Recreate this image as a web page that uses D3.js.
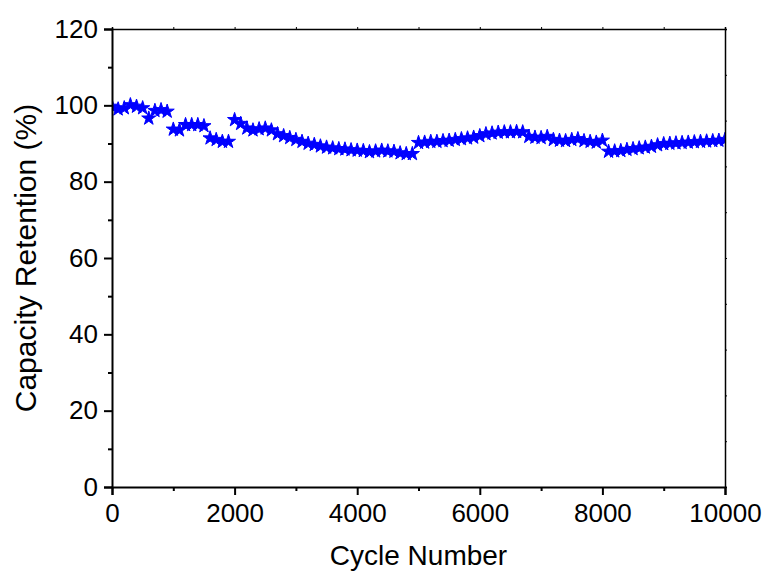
<!DOCTYPE html>
<html>
<head>
<meta charset="utf-8">
<script src="https://cdn.jsdelivr.net/npm/d3@7"></script>
<style>
    body { margin: 0; background: white; }
    svg { display: block; }
</style>
</head>
<body>
<div id="chart"></div>
<script>

const cycles = [
    0, 100, 200, 300, 400, 500, 600, 700, 800, 900,
    1000, 1100, 1200, 1300, 1400, 1500, 1600, 1700, 1800, 1900,
    2000, 2100, 2200, 2300, 2400, 2500, 2600, 2700, 2800, 2900,
    3000, 3100, 3200, 3300, 3400, 3500, 3600, 3700, 3800, 3900,
    4000, 4100, 4200, 4300, 4400, 4500, 4600, 4700, 4800, 4900,
    5000, 5100, 5200, 5300, 5400, 5500, 5600, 5700, 5800, 5900,
    6000, 6100, 6200, 6300, 6400, 6500, 6600, 6700, 6800, 6900,
    7000, 7100, 7200, 7300, 7400, 7500, 7600, 7700, 7800, 7900,
    8000, 8100, 8200, 8300, 8400, 8500, 8600, 8700, 8800, 8900,
    9000, 9100, 9200, 9300, 9400, 9500, 9600, 9700, 9800, 9900,
    10000
]

const retention = [
    99.7, 99.0, 99.3, 100.1, 99.7, 99.3, 96.6, 98.6, 98.8, 98.4,
    93.7, 93.5, 94.9, 94.9, 94.9, 94.6, 91.4, 91.0, 90.5, 90.5,
    96.2, 95.2, 94.0, 93.5, 93.8, 94.0, 93.5, 92.5, 92.0, 91.5,
    91.0, 90.5, 90.0, 89.7, 89.3, 89.0, 88.8, 88.6, 88.5, 88.3,
    88.2, 88.1, 87.8, 88.0, 88.2, 88.0, 87.9, 87.5, 87.3, 87.3,
    90.2, 90.3, 90.5, 90.5, 90.7, 90.8, 91.0, 91.2, 91.4, 91.6,
    92.0, 92.5, 92.7, 92.9, 93.0, 93.0, 93.1, 93.0, 91.8, 91.6,
    91.5, 91.8, 91.0, 90.8, 90.7, 91.0, 91.2, 90.7, 90.5, 90.3,
    90.8, 87.9, 88.0, 88.1, 88.4, 88.6, 88.8, 89.0, 89.2, 89.6,
    89.9, 90.0, 90.1, 90.2, 90.3, 90.4, 90.5, 90.6, 90.7, 90.8,
    91.0
]

const xMajor = [0, 2000, 4000, 6000, 8000, 10000]
const xMinor = [1000, 3000, 5000, 7000, 9000]
const yMajor = [0, 20, 40, 60, 80, 100, 120]
const yMinor = [10, 30, 50, 70, 90, 110]
const topTicks = [0, 1000, 2000, 3000, 4000, 5000, 6000, 7000, 8000, 9000, 10000]
const rightTicks = [0, 12, 24, 36, 48, 60, 72, 84, 96, 108, 120]

const width = 768, height = 573;
const margin = { left: 112, right: 43, top: 29, bottom: 86 };
const font = "'Liberation Sans', Arial, sans-serif";

const svg = d3.select('#chart')
    .append('svg')
    .attr('width', width)
    .attr('height', height);

const x = d3.scaleLinear()
    .domain([0, 10000])
    .range([margin.left, width - margin.right]);

const y = d3.scaleLinear()
    .domain([0, 120])
    .range([height - margin.bottom, margin.top]);

const data = cycles.map((c, i) => ({ cycle: c, value: retention[i] }));

// keep the stars inside the frame
svg.append('clipPath')
    .attr('id', 'plot-clip')
    .append('rect')
    .attr('x', x(0))
    .attr('y', y(120))
    .attr('width', x(10000) - x(0))
    .attr('height', y(0) - y(120));

svg.append('g')
    .attr('clip-path', 'url(#plot-clip)')
    .selectAll('path')
    .data(data)
    .join('path')
    .attr('d', d3.symbol(d3.symbolStar, 62))
    .attr('transform', d => `translate(${x(d.cycle)},${y(d.value)})`)
    .attr('fill', '#0000ff')
    .attr('stroke', '#0000ff')
    .attr('stroke-width', 1)
    .attr('stroke-linejoin', 'round');

// top and right frame with tiny ticks
const topAxis = svg.append('g')
    .attr('transform', `translate(0,${y(120)})`)
    .call(d3.axisTop(x).tickValues(topTicks).tickSize(2).tickFormat(''));

const rightAxis = svg.append('g')
    .attr('transform', `translate(${x(10000)},0)`)
    .call(d3.axisRight(y).tickValues(rightTicks).tickSize(2).tickFormat(''));

[topAxis, rightAxis].forEach(g => {
    g.select('.domain').attr('stroke', '#000').attr('stroke-width', 1.5);
    g.selectAll('.tick line').attr('stroke', '#000').attr('stroke-width', 1);
});

// bottom axis, major + minor
const bottomAxis = svg.append('g')
    .attr('transform', `translate(0,${y(0)})`)
    .call(d3.axisBottom(x).tickValues(xMajor).tickSize(8).tickPadding(9).tickFormat(d3.format('d')));

const bottomMinor = svg.append('g')
    .attr('transform', `translate(0,${y(0)})`)
    .call(d3.axisBottom(x).tickValues(xMinor).tickSize(4).tickFormat(''));
bottomMinor.select('.domain').remove();

// left axis, major + minor
const leftAxis = svg.append('g')
    .attr('transform', `translate(${x(0)},0)`)
    .call(d3.axisLeft(y).tickValues(yMajor).tickSize(8).tickPadding(6));

const leftMinor = svg.append('g')
    .attr('transform', `translate(${x(0)},0)`)
    .call(d3.axisLeft(y).tickValues(yMinor).tickSize(4).tickFormat(''));
leftMinor.select('.domain').remove();

[bottomAxis, bottomMinor, leftAxis, leftMinor].forEach(g => {
    g.select('.domain').attr('stroke', '#000').attr('stroke-width', 2);
    g.selectAll('.tick line').attr('stroke', '#000').attr('stroke-width', 2);
    g.selectAll('text')
        .style('font-family', font)
        .style('font-size', '26px')
        .attr('fill', '#000');
});

// axis titles
svg.append('text')
    .attr('x', (x(0) + x(10000)) / 2)
    .attr('y', 565)
    .attr('text-anchor', 'middle')
    .style('font-family', font)
    .style('font-size', '28px')
    .text('Cycle Number');

svg.append('text')
    .attr('transform', `translate(36,${(y(0) + y(120)) / 2}) rotate(-90)`)
    .attr('text-anchor', 'middle')
    .style('font-family', font)
    .style('font-size', '30px')
    .text('Capacity Retention (%)');

</script>
</body>
</html>
